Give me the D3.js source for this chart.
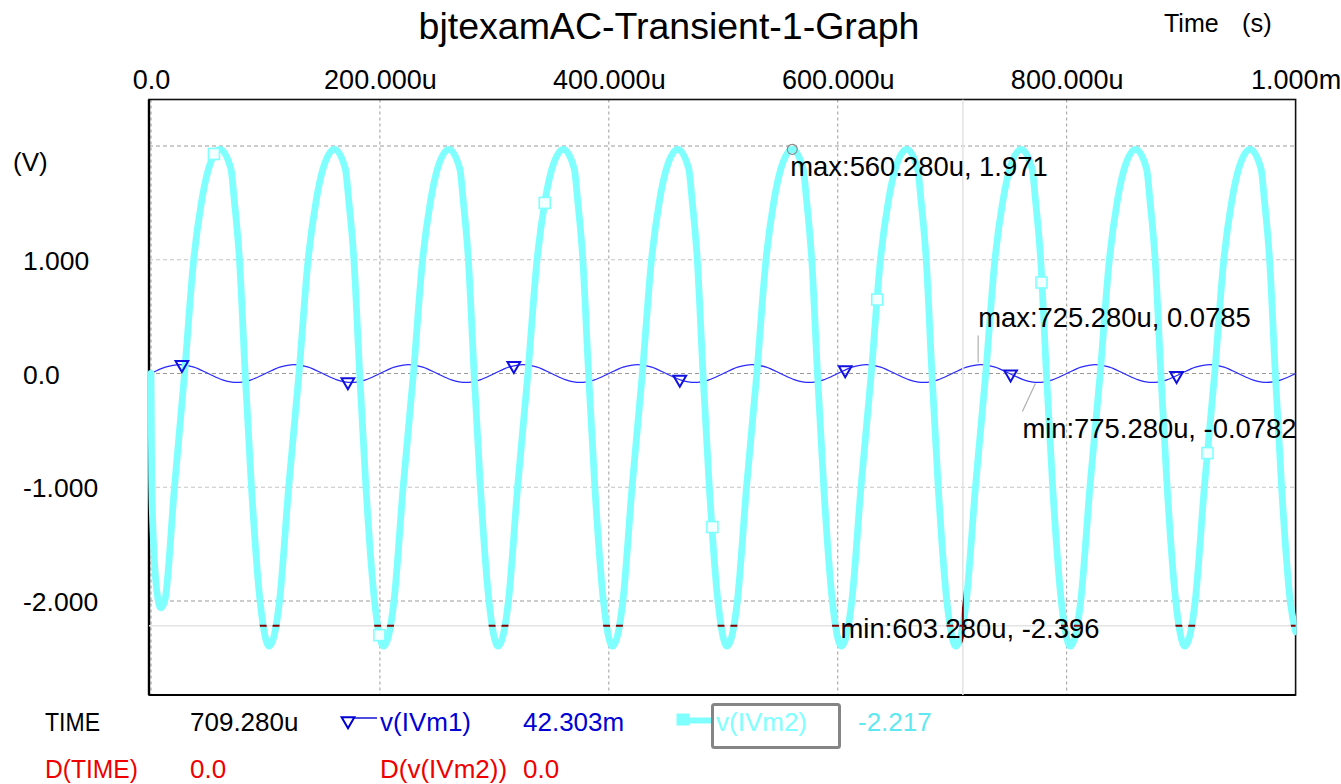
<!DOCTYPE html>
<html>
<head>
<meta charset="utf-8">
<script src="https://cdn.jsdelivr.net/npm/d3@7"></script>
<style>
  html, body { margin: 0; padding: 0; background: #ffffff; }
  svg { display: block; font-family: "Liberation Sans", Arial, Helvetica, sans-serif; }
</style>
</head>
<body>
<svg id="chart" width="1341" height="784"></svg>
<script>
// ---- Chart text ----
const chartTitle = "bjtexamAC-Transient-1-Graph";
const timeUnitLabel = ["Time", "(s)"];
const voltUnitLabel = "(V)";

// ---- Axes ----
const timeTicks = [0, 200, 400, 600, 800, 1000];            // microseconds
const timeTickLabels = ["0.0", "200.000u", "400.000u", "600.000u", "800.000u", "1.000m"];
const voltTicks = [1, 0, -1, -2];
const voltTickLabels = ["1.000", "0.0", "-1.000", "-2.000"];
const voltGridMajor = [2, 0, -2];
const voltGridMinor = [1, -1];

// ---- v(IVm1): input probe, microseconds / volts ----
const ivm1Time = [0, 12.5, 25, 37.5, 50, 62.5, 75, 87.5, 100, 112.5, 125, 137.5, 150, 162.5, 175, 187.5,
  200, 212.5, 225, 237.5, 250, 262.5, 275, 287.5, 300, 312.5, 325, 337.5, 350, 362.5, 375, 387.5,
  400, 412.5, 425, 437.5, 450, 462.5, 475, 487.5, 500, 512.5, 525, 537.5, 550, 562.5, 575, 587.5,
  600, 612.5, 625, 637.5, 650, 662.5, 675, 687.5, 700, 712.5, 725, 737.5, 750, 762.5, 775, 787.5,
  800, 812.5, 825, 837.5, 850, 862.5, 875, 887.5, 900, 912.5, 925, 937.5, 950, 962.5, 975, 987.5, 1000];
const ivm1Value = [0, 0.0555, 0.0785, 0.0555, 0, -0.0553, -0.0782, -0.0553,
  0, 0.0555, 0.0785, 0.0555, 0, -0.0553, -0.0782, -0.0553,
  0, 0.0555, 0.0785, 0.0555, 0, -0.0553, -0.0782, -0.0553,
  0, 0.0555, 0.0785, 0.0555, 0, -0.0553, -0.0782, -0.0553,
  0, 0.0555, 0.0785, 0.0555, 0, -0.0553, -0.0782, -0.0553,
  0, 0.0555, 0.0785, 0.0555, 0, -0.0553, -0.0782, -0.0553,
  0, 0.0555, 0.0785, 0.0555, 0, -0.0553, -0.0782, -0.0553,
  0, 0.0555, 0.0785, 0.0555, 0, -0.0553, -0.0782, -0.0553,
  0, 0.0555, 0.0785, 0.0555, 0, -0.0553, -0.0782, -0.0553,
  0, 0.0555, 0.0785, 0.0555, 0, -0.0553, -0.0782, -0.0553, 0];
const ivm1MarkerTime = [27, 172, 317, 462, 606.5, 751, 896];
const ivm1MarkerValue = [0.078, -0.075, 0.068, -0.052, 0.031, -0.005, -0.02];

// ---- v(IVm2): amplifier output, microseconds / volts ----
const ivm2Time = [0, 0.6, 2, 4, 6, 8.5, 12, 20.5, 29.3, 37.3, 44.3, 50.3, 60.28,
  69.78, 72.78, 77.28, 82.28, 87.78, 95.28, 103.28, 112.28, 120.28, 129.28, 137.28, 144.28, 150.28, 160.28,
  169.78, 172.78, 177.28, 182.28, 187.78, 195.28, 203.28, 212.28, 220.28, 229.28, 237.28, 244.28, 250.28, 260.28,
  269.78, 272.78, 277.28, 282.28, 287.78, 295.28, 303.28, 312.28, 320.28, 329.28, 337.28, 344.28, 350.28, 360.28,
  369.78, 372.78, 377.28, 382.28, 387.78, 395.28, 403.28, 412.28, 420.28, 429.28, 437.28, 444.28, 450.28, 460.28,
  469.78, 472.78, 477.28, 482.28, 487.78, 495.28, 503.28, 512.28, 520.28, 529.28, 537.28, 544.28, 550.28, 560.28,
  569.78, 572.78, 577.28, 582.28, 587.78, 595.28, 603.28, 612.28, 620.28, 629.28, 637.28, 644.28, 650.28, 660.28,
  669.78, 672.78, 677.28, 682.28, 687.78, 695.28, 703.28, 712.28, 720.28, 729.28, 737.28, 744.28, 750.28, 760.28,
  769.78, 772.78, 777.28, 782.28, 787.78, 795.28, 803.28, 812.28, 820.28, 829.28, 837.28, 844.28, 850.28, 860.28,
  869.78, 872.78, 877.28, 882.28, 887.78, 895.28, 903.28, 912.28, 920.28, 929.28, 937.28, 944.28, 950.28, 960.28,
  969.78, 972.78, 977.28, 982.28, 987.78, 995.28, 1000];
const ivm2Value = [0, -0.9, -1.45, -1.8, -1.98, -2.06, -2.0, -1.0, 0, 1.0, 1.52, 1.80, 1.971,
  1.80, 1.52, 1.0, 0, -1.0, -2.0, -2.396, -2.0, -1.0, 0, 1.0, 1.52, 1.80, 1.971,
  1.80, 1.52, 1.0, 0, -1.0, -2.0, -2.396, -2.0, -1.0, 0, 1.0, 1.52, 1.80, 1.971,
  1.80, 1.52, 1.0, 0, -1.0, -2.0, -2.396, -2.0, -1.0, 0, 1.0, 1.52, 1.80, 1.971,
  1.80, 1.52, 1.0, 0, -1.0, -2.0, -2.396, -2.0, -1.0, 0, 1.0, 1.52, 1.80, 1.971,
  1.80, 1.52, 1.0, 0, -1.0, -2.0, -2.396, -2.0, -1.0, 0, 1.0, 1.52, 1.80, 1.971,
  1.80, 1.52, 1.0, 0, -1.0, -2.0, -2.396, -2.0, -1.0, 0, 1.0, 1.52, 1.80, 1.971,
  1.80, 1.52, 1.0, 0, -1.0, -2.0, -2.396, -2.0, -1.0, 0, 1.0, 1.52, 1.80, 1.971,
  1.80, 1.52, 1.0, 0, -1.0, -2.0, -2.396, -2.0, -1.0, 0, 1.0, 1.52, 1.80, 1.971,
  1.80, 1.52, 1.0, 0, -1.0, -2.0, -2.396, -2.0, -1.0, 0, 1.0, 1.52, 1.80, 1.971,
  1.80, 1.52, 1.0, 0, -1.0, -2.0, -2.27];
const ivm2MarkerTime = [55, 199.5, 344, 490.5, 634.5, 778, 923];
const ivm2MarkerValue = [1.93, -2.3, 1.5, -1.35, 0.65, 0.8, -0.7];

// ---- Cursor and measurement labels ----
const cursorTime = 709.28;
const cursorValue = -2.217;
const annTime = [560.28, 725.28, 775.28, 603.28];
const annValue = [1.971, 0.0785, -0.0782, -2.396];
const annLabel = ["max:560.280u, 1.971", "max:725.280u, 0.0785", "min:775.280u, -0.0782", "min:603.280u, -2.396"];

// ---- Probe readout ----
const readoutRow1 = ["TIME", "709.280u", "v(IVm1)", "42.303m", "v(IVm2)", "-2.217"];
const readoutRow2 = ["D(TIME)", "0.0", "D(v(IVm2))", "0.0"];

// ---- Colours ----
const cyan = "#80ffff";
const blue = "#2a2aff";
const textBlue = "#0000d4";
const red = "#ee0000";

const svg = d3.select("#chart");
const frame = { left: 149, top: 99.5, right: 1295.6, bottom: 695 };

const x = d3.scaleLinear().domain([0, 1000]).range([151, 1295.6]);
const y = d3.scaleLinear().domain([-2, 2]).range([601, 146]);

const defs = svg.append("defs");
defs.append("clipPath").attr("id", "plotClip")
  .append("rect").attr("x", frame.left - 2).attr("y", frame.top)
  .attr("width", frame.right - frame.left + 3).attr("height", frame.bottom - frame.top);

// Title and time unit
svg.append("text").attr("x", 669).attr("y", 39).attr("text-anchor", "middle")
  .attr("font-size", 37.5).attr("fill", "#000").text(chartTitle);
svg.append("text").attr("x", 1164).attr("y", 32).attr("font-size", 25).text(timeUnitLabel[0]);
svg.append("text").attr("x", 1242).attr("y", 32).attr("font-size", 25.5).text(timeUnitLabel[1]);
svg.append("text").attr("x", 13).attr("y", 171).attr("font-size", 26).text(voltUnitLabel);

// Grid
const grid = svg.append("g");
grid.selectAll("line.vg").data(timeTicks.filter(d => d < 1000)).join("line")
  .attr("x1", d => x(d)).attr("x2", d => x(d))
  .attr("y1", frame.top).attr("y2", frame.bottom)
  .attr("stroke", "#9a9a9a").attr("stroke-width", 1).attr("stroke-dasharray", "3,3");
grid.selectAll("line.hgM").data(voltGridMajor).join("line")
  .attr("x1", frame.left).attr("x2", frame.right)
  .attr("y1", d => y(d)).attr("y2", d => y(d))
  .attr("stroke", "#9a9a9a").attr("stroke-width", 1).attr("stroke-dasharray", "4,3");
grid.selectAll("line.hgm").data(voltGridMinor).join("line")
  .attr("class", "minor")
  .attr("x1", frame.left).attr("x2", frame.right)
  .attr("y1", d => y(d)).attr("y2", d => y(d))
  .attr("stroke", "#c4c4c4").attr("stroke-width", 1).attr("stroke-dasharray", "4,3");

// Plot frame
svg.append("rect").attr("x", frame.left).attr("y", frame.top)
  .attr("width", frame.right - frame.left).attr("height", frame.bottom - frame.top)
  .attr("fill", "none").attr("stroke", "#111").attr("stroke-width", 1.6);
svg.append("line").attr("x1", frame.left).attr("x2", frame.left)
  .attr("y1", frame.top).attr("y2", frame.bottom).attr("stroke", "#000").attr("stroke-width", 2.4);
svg.append("line").attr("x1", frame.left).attr("x2", frame.right)
  .attr("y1", frame.bottom).attr("y2", frame.bottom).attr("stroke", "#000").attr("stroke-width", 2);

// Top time axis
const topAxis = d3.axisTop(x).tickValues(timeTicks)
  .tickFormat((d, i) => timeTickLabels[i]).tickSize(0);
const gTop = svg.append("g").attr("transform", "translate(0,89)").call(topAxis);
gTop.select(".domain").remove();
gTop.selectAll("text").attr("y", 0).attr("dy", 0)
  .attr("font-size", 27).attr("fill", "#000")
  .attr("font-family", "Liberation Sans, Arial, sans-serif");

// Left volt axis
const leftAxis = d3.axisLeft(y).tickValues(voltTicks)
  .tickFormat((d, i) => voltTickLabels[i]).tickSize(0);
const gLeft = svg.append("g").call(leftAxis);
gLeft.select(".domain").remove();
gLeft.selectAll("text").attr("x", 23).attr("dy", "0.36em").attr("text-anchor", "start")
  .attr("font-size", 26.5).attr("fill", "#000")
  .attr("font-family", "Liberation Sans, Arial, sans-serif");

// Traces
const ivm1 = ivm1Time.map((t, i) => [t, ivm1Value[i]]);
const ivm2 = ivm2Time.map((t, i) => [t, ivm2Value[i]]);
const line = d3.line().x(d => x(d[0])).y(d => y(d[1])).curve(d3.curveMonotoneX);
const traces = svg.append("g").attr("clip-path", "url(#plotClip)");

traces.append("path").attr("d", line(ivm1))
  .attr("fill", "none").attr("stroke", blue).attr("stroke-width", 1.3);
const ivm2Path = line(ivm2);
traces.append("path").attr("d", ivm2Path)
  .attr("fill", "none").attr("stroke", cyan).attr("stroke-width", 6.8)
  .attr("stroke-linejoin", "round").attr("stroke-linecap", "round");

// Cursor cross-hair; shown dark red where it crosses the output trace
const mask = defs.append("mask").attr("id", "traceMask").attr("maskUnits", "userSpaceOnUse")
  .attr("x", 0).attr("y", 0).attr("width", 1341).attr("height", 784);
mask.append("rect").attr("width", 1341).attr("height", 784).attr("fill", "#000");
mask.append("path").attr("d", ivm2Path).attr("fill", "none")
  .attr("stroke", "#fff").attr("stroke-width", 6.8).attr("stroke-linejoin", "round");

const cursorG = svg.append("g").attr("clip-path", "url(#plotClip)");
function cursorLines(g, color, width) {
  g.append("line").attr("x1", x(cursorTime)).attr("x2", x(cursorTime))
    .attr("y1", frame.top).attr("y2", frame.bottom).attr("stroke", color).attr("stroke-width", width);
  g.append("line").attr("x1", frame.left).attr("x2", frame.right)
    .attr("y1", y(cursorValue)).attr("y2", y(cursorValue)).attr("stroke", color).attr("stroke-width", width);
}
cursorLines(cursorG.append("g"), "#e4e4e4", 1.6);
cursorLines(cursorG.append("g").attr("mask", "url(#traceMask)"), "#7f0000", 2);

// Trace symbols
const tri = d3.symbol().type(d3.symbolTriangle).size(70);
svg.append("g").selectAll("path").data(ivm1MarkerTime).join("path")
  .attr("d", tri)
  .attr("transform", (t, i) => `translate(${x(t)},${y(ivm1MarkerValue[i])}) rotate(180)`)
  .attr("fill", "#fff").attr("fill-opacity", 0.0)
  .attr("stroke", "#1010e0").attr("stroke-width", 2);
svg.append("g").selectAll("rect").data(ivm2MarkerTime).join("rect")
  .attr("x", t => x(t) - 5.5).attr("y", (t, i) => y(ivm2MarkerValue[i]) - 5.5)
  .attr("width", 11).attr("height", 11)
  .attr("fill", "#f4ffff").attr("stroke", cyan).attr("stroke-width", 1.6);

// Measurement labels
svg.append("circle").attr("cx", x(annTime[0])).attr("cy", y(annValue[0])).attr("r", 5)
  .attr("fill", "none").attr("stroke", "#8a8a8a").attr("stroke-width", 1.2);
const leaders = svg.append("g").attr("stroke", "#b0b0b0").attr("stroke-width", 1.2);
leaders.append("line")
  .attr("x1", x(annTime[1]) - 3).attr("y1", y(annValue[1]) - 2)
  .attr("x2", x(annTime[1]) - 3).attr("y2", y(annValue[1]) - 29);
leaders.append("line")
  .attr("x1", x(annTime[2]) - 3).attr("y1", y(annValue[2]) + 1)
  .attr("x2", x(annTime[2]) - 16).attr("y2", y(annValue[2]) + 29);

const annOffset = [[-2, 27], [-3, -38], [-16, 56], [-1, -8]];
svg.append("g").selectAll("text").data(annLabel).join("text")
  .attr("x", (d, i) => x(annTime[i]) + annOffset[i][0])
  .attr("y", (d, i) => y(annValue[i]) + annOffset[i][1])
  .attr("font-size", 27.4).attr("fill", "#000").text(d => d);

// Probe readout
const r1 = 731, r2 = 778;
const leg = svg.append("g").attr("font-size", 26);
leg.append("text").attr("x", 45).attr("y", r1).attr("fill", "#000")
  .attr("textLength", 55).attr("lengthAdjust", "spacingAndGlyphs").text(readoutRow1[0]);
leg.append("text").attr("x", 190).attr("y", r1).attr("fill", "#000").text(readoutRow1[1]);
leg.append("line").attr("x1", 352).attr("x2", 377).attr("y1", 718).attr("y2", 718)
  .attr("stroke", textBlue).attr("stroke-width", 1.4);
leg.append("path").attr("d", tri)
  .attr("transform", "translate(348,721) rotate(180)")
  .attr("fill", "#fff").attr("stroke", textBlue).attr("stroke-width", 2);
leg.append("text").attr("x", 380).attr("y", r1).attr("fill", textBlue).text(readoutRow1[2]);
leg.append("text").attr("x", 523).attr("y", r1).attr("fill", textBlue).text(readoutRow1[3]);
leg.append("line").attr("x1", 686).attr("x2", 713).attr("y1", 720.5).attr("y2", 720.5)
  .attr("stroke", cyan).attr("stroke-width", 6);
leg.append("rect").attr("x", 677).attr("y", 714).attr("width", 12).attr("height", 11)
  .attr("fill", cyan).attr("stroke", cyan).attr("stroke-width", 1);
leg.append("rect").attr("x", 712.5).attr("y", 704.5).attr("width", 127).attr("height", 43)
  .attr("rx", 2).attr("fill", "none").attr("stroke", "#858585").attr("stroke-width", 3);
leg.append("text").attr("x", 716).attr("y", r1).attr("fill", cyan).text(readoutRow1[4]);
leg.append("text").attr("x", 858).attr("y", r1).attr("fill", "#5fe8f0").text(readoutRow1[5]);

leg.append("text").attr("x", 45).attr("y", r2).attr("fill", red)
  .attr("textLength", 93).attr("lengthAdjust", "spacingAndGlyphs").text(readoutRow2[0]);
leg.append("text").attr("x", 190).attr("y", r2).attr("fill", red).text(readoutRow2[1]);
leg.append("text").attr("x", 380).attr("y", r2).attr("fill", red).text(readoutRow2[2]);
leg.append("text").attr("x", 523).attr("y", r2).attr("fill", red).text(readoutRow2[3]);
</script>
</body>
</html>
